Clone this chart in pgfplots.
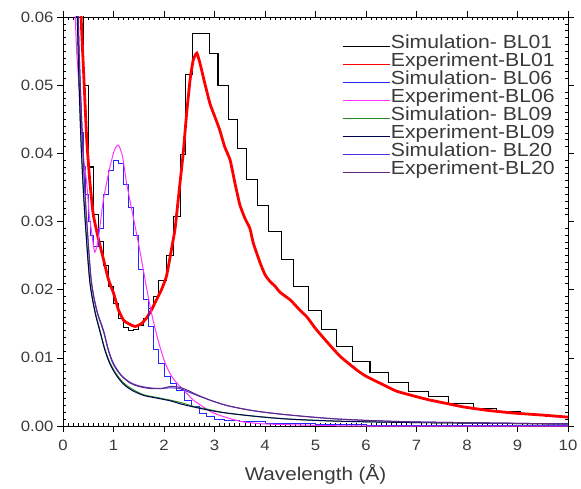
\documentclass[border=0pt]{standalone}
\usepackage{fontspec}
\setmainfont{Liberation Sans}[FakeStretch=1.12]
\usepackage{pgfplots}
\pgfplotsset{compat=1.18}
\definecolor{sim06}{HTML}{2525FF}
\definecolor{exp06}{HTML}{FF35FF}
\definecolor{sim09}{HTML}{228B22}
\definecolor{exp09}{HTML}{000050}
\definecolor{sim20}{HTML}{5530E0}
\definecolor{exp20}{HTML}{602880}
\definecolor{txt}{HTML}{3A3A3A}
\pgfplotsset{
  legend image code/.code={\draw[#1, line width=1.5bp, yshift=-3bp] (0bp,0bp) -- (47bp,0bp);},
}
\begin{document}
\begin{tikzpicture}
\begin{axis}[
  scale only axis, width=505bp, height=409bp,
  xmin=0, xmax=10, ymin=0, ymax=0.06,
  xtick={0,1,...,10}, ytick={0,0.01,...,0.06},
  minor x tick num=9, minor y tick num=9,
  tick align=outside, major tick length=6bp, minor tick length=-3bp,
  tick style={black, line width=0.6bp},
  axis line style={black, line width=0.8bp},
  scaled y ticks=false,
  yticklabel style={/pgf/number format/.cd, fixed, fixed zerofill, precision=2},
  xticklabel style={yshift=-5bp},
  /pgf/number format/assume math mode=true,
  ticklabel style={font=\fontsize{15}{17}\selectfont, text=txt},
  xlabel={Wavelength (Å)},
  xlabel style={font=\fontsize{18.5}{20}\selectfont, text=txt, yshift=-6bp},
  legend cell align=left,
  legend style={at={(rel axis cs:0.975,0.955)}, anchor=north east, draw=none, fill=none,
    font=\fontsize{19}{19}\selectfont, text=txt, inner sep=0pt, row sep=2bp,
    nodes={inner sep=0.5bp, text height=12bp, text depth=3bp}},
  every axis plot/.append style={line width=1bp},
]
% Simulation BL01
\addplot[black, const plot, line width=1.1bp] coordinates {
(0.30,0.075)(0.37,0.062)(0.40,0.050)(0.50,0.038)(0.60,0.031)(0.70,0.027)(0.80,0.0235)(0.90,0.0205)(1.00,0.018)(1.10,0.0158)(1.20,0.0145)(1.30,0.014)(1.40,0.0141)(1.50,0.0148)(1.60,0.0158)(1.70,0.0172)(1.80,0.019)(1.90,0.0213)(2.05,0.0250)(2.18,0.0307)(2.32,0.0398)(2.42,0.0515)(2.57,0.0576)(2.90,0.0547)(3.07,0.0500)(3.27,0.0449)(3.45,0.0407)(3.64,0.0361)(3.85,0.0323)(4.07,0.0285)(4.33,0.0244)(4.56,0.0205)(4.86,0.0170)(5.12,0.0141)(5.42,0.0116)(5.73,0.0095)(6.08,0.0078)(6.44,0.0064)(6.84,0.0050)(7.23,0.0043)(7.63,0.0033)(8.12,0.0026)(8.59,0.0021)(9.05,0.0017)(9.55,0.0014)(10.0,0.0014)};
\addlegendentry{Simulation- BL01}
% Experiment BL01
\addplot[red, line width=2.8bp, smooth, tension=0.3] coordinates {
(0.33,0.065)(0.37,0.058)(0.42,0.050)(0.47,0.042)(0.53,0.036)(0.60,0.031)(0.70,0.0275)(0.80,0.0245)(0.90,0.0215)(1.00,0.0195)(1.10,0.0170)(1.20,0.0155)(1.30,0.0150)(1.43,0.0146)(1.55,0.0150)(1.65,0.0158)(1.75,0.0170)(1.85,0.0185)(1.95,0.0200)(2.05,0.0220)(2.15,0.0260)(2.22,0.0290)(2.30,0.0345)(2.38,0.0400)(2.45,0.0460)(2.52,0.0510)(2.58,0.0537)(2.65,0.0547)(2.72,0.0530)(2.80,0.0505)(2.91,0.0473)(3.0,0.0455)(3.1,0.0435)(3.2,0.0410)(3.31,0.0390)(3.4,0.0358)(3.5,0.0325)(3.6,0.0305)(3.7,0.0290)(3.77,0.0268)(3.9,0.0240)(4.0,0.0222)(4.1,0.0212)(4.2,0.0205)(4.3,0.0196)(4.5,0.0185)(4.69,0.0170)(4.83,0.0160)(5.0,0.0143)(5.22,0.0124)(5.49,0.0102)(5.82,0.0082)(6.0,0.0073)(6.3,0.0062)(6.61,0.0051)(7.0,0.0043)(7.27,0.0038)(7.6,0.0033)(7.93,0.0028)(8.4,0.0023)(8.92,0.0019)(9.5,0.0016)(10.0,0.0013)};
\addlegendentry{Experiment-BL01}
% Simulation BL06
\addplot[sim06, const plot] coordinates {
(0.20,0.07)(0.25,0.060)(0.30,0.050)(0.35,0.043)(0.40,0.038)(0.45,0.034)(0.50,0.030)(0.55,0.0280)(0.60,0.0263)(0.70,0.0290)(0.80,0.0340)(0.90,0.0375)(1.00,0.0390)(1.10,0.0385)(1.20,0.0355)(1.30,0.0320)(1.40,0.0280)(1.50,0.0230)(1.60,0.0185)(1.70,0.0146)(1.80,0.0112)(1.90,0.0092)(2.00,0.0072)(2.12,0.0062)(2.25,0.0052)(2.40,0.0038)(2.55,0.0028)(2.70,0.0019)(2.85,0.0014)(3.0,0.0010)(3.2,0.0008)(3.5,0.0006)(4.0,0.0004)(4.5,0.0003)(5.0,0.0002)(6.0,0.0001)(10.0,0.0001)};
\addlegendentry{Simulation- BL06}
% Experiment BL06
\addplot[exp06, smooth, tension=0.4] coordinates {
(0.22,0.065)(0.27,0.055)(0.34,0.0478)(0.40,0.040)(0.47,0.0356)(0.52,0.031)(0.57,0.0283)(0.63,0.0255)(0.70,0.0275)(0.80,0.0332)(0.93,0.0380)(1.02,0.0405)(1.10,0.0412)(1.18,0.0395)(1.26,0.0356)(1.39,0.0307)(1.52,0.0258)(1.60,0.0225)(1.70,0.0185)(1.80,0.0150)(1.92,0.0116)(2.02,0.0093)(2.12,0.0077)(2.22,0.0066)(2.32,0.0058)(2.45,0.0048)(2.58,0.0038)(2.8,0.0027)(2.98,0.0019)(3.3,0.0011)(3.57,0.0006)(4.0,0.0003)(5.0,0.0001)(6.0,0.0)(10.0,0.0)};
\addlegendentry{Experiment-BL06}
% Simulation BL09
\addplot[sim09, smooth] coordinates {
(0.25,0.07)(0.30,0.055)(0.35,0.043)(0.40,0.035)(0.45,0.029)(0.53,0.0214)(0.63,0.0170)(0.73,0.0141)(0.83,0.0113)(0.93,0.0093)(1.05,0.0077)(1.19,0.0064)(1.35,0.0055)(1.59,0.0046)(1.85,0.0042)(2.12,0.0038)(2.35,0.0034)(2.58,0.0029)(2.9,0.0024)(3.24,0.0019)(3.84,0.0014)(4.5,0.0010)(5.5,0.0007)(7.0,0.0005)(10.0,0.0003)};
\addlegendentry{Simulation- BL09}
% Experiment BL09
\addplot[exp09, smooth] coordinates {
(0.25,0.07)(0.30,0.055)(0.35,0.043)(0.40,0.035)(0.45,0.029)(0.53,0.0212)(0.63,0.0168)(0.73,0.0139)(0.83,0.0111)(0.93,0.0091)(1.05,0.0075)(1.19,0.0062)(1.35,0.0053)(1.59,0.0045)(1.85,0.0041)(2.12,0.0037)(2.35,0.0032)(2.58,0.0028)(2.9,0.0023)(3.24,0.0019)(3.84,0.0014)(4.5,0.0010)(5.5,0.0007)(7.0,0.0005)(10.0,0.0003)};
\addlegendentry{Experiment-BL09}
% Simulation BL20
\addplot[sim20, smooth] coordinates {
(0.27,0.07)(0.32,0.055)(0.38,0.043)(0.43,0.035)(0.48,0.029)(0.56,0.0214)(0.67,0.0170)(0.80,0.0141)(0.90,0.0112)(1.0,0.0092)(1.15,0.0075)(1.33,0.0064)(1.5,0.0059)(1.72,0.0056)(1.95,0.0055)(2.12,0.0056)(2.3,0.0055)(2.45,0.0051)(2.65,0.0045)(2.91,0.0038)(3.2,0.0031)(3.5,0.0026)(3.9,0.0021)(4.5,0.0016)(5.5,0.0010)(7.0,0.0006)(10.0,0.0003)};
\addlegendentry{Simulation- BL20}
% Experiment BL20
\addplot[exp20, smooth] coordinates {
(0.27,0.07)(0.32,0.055)(0.38,0.043)(0.43,0.035)(0.48,0.029)(0.56,0.0212)(0.67,0.0168)(0.80,0.0139)(0.90,0.0110)(1.0,0.0090)(1.15,0.0074)(1.33,0.0063)(1.5,0.0058)(1.72,0.0055)(1.95,0.0055)(2.12,0.0058)(2.3,0.0057)(2.45,0.0053)(2.65,0.0046)(2.91,0.0038)(3.2,0.0031)(3.5,0.0026)(3.9,0.0021)(4.5,0.0016)(5.5,0.0010)(7.0,0.0006)(10.0,0.0003)};
\addlegendentry{Experiment-BL20}
\end{axis}
\path ([shift={(-63bp,-63bp)}]current axis.south west) rectangle ([shift={(13bp,17bp)}]current axis.north east);
\end{tikzpicture}
\end{document}
